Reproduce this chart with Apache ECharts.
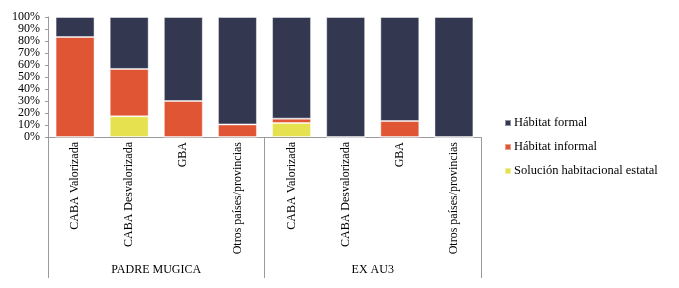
<!DOCTYPE html>
<html>
<head>
<meta charset="utf-8">
<script src="https://cdn.jsdelivr.net/npm/echarts@6/dist/echarts.min.js"></script>
<style>
    html, body { margin: 0; padding: 0; background: #fff; }
    #chart { width: 679px; height: 288px; }
</style>
</head>
<body>
<div id="chart"></div>
<script>
// categories (two groups of four)
const categories = [
    'CABA Valorizada', 'CABA Desvalorizada', 'GBA', 'Otros países/provincias',
    'CABA Valorizada', 'CABA Desvalorizada', 'GBA', 'Otros países/provincias'
];
const groups = ['PADRE MUGICA', 'EX AU3'];

// shares in %
const solucionEstatal = [0, 17.2, 0, 0, 11.7, 0, 0, 0];
const habitatInformal = [83.3, 39.5, 30, 10.5, 3.6, 0, 13.3, 0];
const habitatFormal = [16.7, 43.3, 70, 89.5, 84.7, 100, 86.7, 100];

const yTicks = { min: 0, max: 100, interval: 10 };

const font = 'Liberation Serif, DejaVu Serif, serif';
const colors = {
    formal: '#333850',
    informal: '#e05533',
    estatal: '#e6e14f'
};

const chart = echarts.init(document.getElementById('chart'));

function barSeries(name, data, color) {
    return {
        name: name,
        type: 'bar',
        stack: 'total',
        xAxisIndex: 0,
        barCategoryGap: '28%',
        data: data,
        itemStyle: {
            color: color,
            borderColor: 'rgba(255,255,255,0.45)',
            borderWidth: 1
        }
    };
}

const option = {
    animation: false,
    textStyle: { fontFamily: font },
    grid: { left: 48, right: 198, top: 17, bottom: 151, containLabel: false },
    legend: {
        orient: 'vertical',
        left: 499,
        top: 111,
        itemWidth: 6,
        itemHeight: 6,
        itemGap: 10,
        icon: 'rect',
        data: ['Hábitat formal', 'Hábitat informal', 'Solución habitacional estatal'],
        textStyle: { fontFamily: font, fontSize: 12.5, lineHeight: 14, color: '#000', padding: [0, 0, 0, -2] }
    },
    xAxis: [
        {
            type: 'category',
            data: categories,
            position: 'bottom',
            axisLine: { lineStyle: { color: '#9a9a9a' } },
            axisTick: { show: false },
            axisLabel: {
                rotate: 90,
                margin: 5,
                interval: 0,
                fontFamily: font,
                fontSize: 12,
                color: '#000'
            }
        },
        {
            type: 'category',
            data: groups,
            position: 'bottom',
            offset: 141,
            axisLine: { show: false },
            axisTick: {
                show: true,
                inside: true,
                length: 141,
                lineStyle: { color: '#9a9a9a' }
            },
            axisLabel: {
                inside: true,
                margin: 2,
                fontFamily: font,
                fontSize: 12,
                color: '#000'
            }
        }
    ],
    yAxis: {
        type: 'value',
        min: yTicks.min,
        max: yTicks.max,
        interval: yTicks.interval,
        axisLine: { show: true, lineStyle: { color: '#9a9a9a' } },
        axisTick: { show: true, length: 3, lineStyle: { color: '#9a9a9a' } },
        splitLine: { show: false },
        axisLabel: {
            formatter: '{value}%',
            margin: 8,
            fontFamily: font,
            fontSize: 12,
            color: '#000'
        }
    },
    series: [
        barSeries('Solución habitacional estatal', solucionEstatal, colors.estatal),
        barSeries('Hábitat informal', habitatInformal, colors.informal),
        barSeries('Hábitat formal', habitatFormal, colors.formal)
    ]
};

chart.setOption(option);
</script>
</body>
</html>
